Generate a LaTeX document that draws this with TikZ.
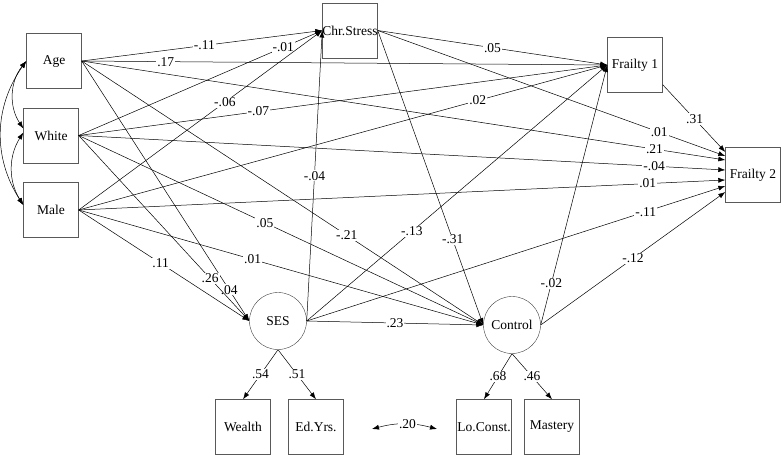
\documentclass[tikz,border=0pt]{standalone}
\usepackage{fontspec}
\setmainfont{Liberation Serif}
\usetikzlibrary{arrows.meta}

\begin{document}
\begin{tikzpicture}[x=1pt,y=-1pt,
  font=\fontsize{13.5}{15}\selectfont,
  obs/.style={draw=black!65, minimum size=55pt, inner sep=0pt},
  lat/.style={draw=black!75, circle, minimum size=57pt, inner sep=0pt},
  arr/.style={-{Latex[length=7pt,width=5pt]}, line width=0.5pt},
  cov/.style={{Latex[length=7pt,width=5pt]}-{Latex[length=7pt,width=5pt]}, line width=0.5pt},
  coef/.style={fill=white, inner sep=1pt}]
\useasboundingbox (0,0) rectangle (784,458);
\node[obs] (age) at (54,61) {Age};
\node[obs] (white) at (51,135.5) {White};
\node[obs] (male) at (51,210) {Male};
\node[obs] (stress) at (350,30.5) {Chr.Stress};
\node[obs] (frail1) at (635,65) {Frailty 1};
\node[obs] (frail2) at (753,175) {Frailty 2};
\node[lat] (ses) at (278,321) {SES};
\node[lat] (control) at (512,325) {Control};
\node[obs] (wealth) at (243,427) {Wealth};
\node[obs] (edyrs) at (316,427) {Ed.Yrs.};
\node[obs] (locon) at (484,427) {Lo.Const.};
\node[obs] (mastery) at (552,427) {Mastery};
\coordinate (resl) at (372,429);
\coordinate (resr) at (437,429);

\draw[cov] (age.west) to[bend right=36] ([yshift=7pt]white.west);
\draw[cov] ([yshift=3pt]white.west) to[bend right=32] ([yshift=5pt]male.west);
\draw[cov] (age.west) to[bend right=34] ([yshift=5pt]male.west);

\draw[arr] (age.east) -- node[coef, pos=.51] {-.11} (stress.west);
\draw[arr] (white.east) -- node[coef, pos=.84] {-.01} (stress.west);
\draw[arr] (male.east) -- node[coef, pos=.60] {-.06} (stress.west);
\draw[arr] (ses.east) -- node[coef, pos=.50] {-.04} (stress.west);

\draw[arr] (age.east) -- node[coef, pos=.16] {.17} (frail1.west);
\draw[arr] (white.east) -- node[coef, pos=.34] {-.07} (frail1.west);
\draw[arr] (male.east) -- node[coef, pos=.755] {.02} (frail1.west);
\draw[arr] (stress.east) -- node[coef, pos=.50] {.05} (frail1.west);
\draw[arr] (ses.east) -- node[coef, pos=.35] {-.13} (frail1.west);
\draw[arr] (control.east) -- node[coef, pos=.16] {-.02} (frail1.west);

\draw[arr] ([yshift=8pt]frail1.south east) -- node[coef, pos=.51] {.31} ([yshift=23pt]frail2.west);
\draw[arr] (stress.east) -- node[coef, pos=.81] {.01} ([yshift=19pt]frail2.west);
\draw[arr] (age.east) -- node[coef, pos=.89] {.21} ([yshift=15pt]frail2.west);
\draw[arr] (white.east) -- node[coef, pos=.89] {-.04} ([yshift=5pt]frail2.west);
\draw[arr] (male.east) -- node[coef, pos=.88] {.01} ([yshift=-5pt]frail2.west);
\draw[arr] (ses.east) -- node[coef, pos=.81] {-.11} ([yshift=-11pt]frail2.west);
\draw[arr] (control.east) -- node[coef, pos=.50] {-.12} ([yshift=-17pt]frail2.west);

\draw[arr] (age.east) -- node[coef, pos=.88] {.04} (ses.west);
\draw[arr] (white.east) -- node[coef, pos=.77] {.26} (ses.west);
\draw[arr] (male.east) -- node[coef, pos=.48] {.11} (ses.west);

\draw[arr] (age.east) -- node[coef, pos=.66] {-.21} (control.west);
\draw[arr] (white.east) -- node[coef, pos=.46] {.05} (control.west);
\draw[arr] (male.east) -- node[coef, pos=.43] {.01} (control.west);
\draw[arr] (stress.east) -- node[coef, pos=.71] {-.31} (control.west);
\draw[arr] (ses.east) -- node[coef, pos=.50] {.23} (control.west);

\draw[arr] (ses.south) -- node[coef] {.54} (wealth.north);
\draw[arr] (ses.south) -- node[coef] {.51} (edyrs.north);
\draw[arr] (control.south) -- node[coef] {.68} (locon.north);
\draw[arr] (control.south) -- node[coef] {.46} (mastery.north);
\draw[cov] (resl) to[bend left=15] node[coef, pos=.55] {.20} (resr);
\end{tikzpicture}
\end{document}
